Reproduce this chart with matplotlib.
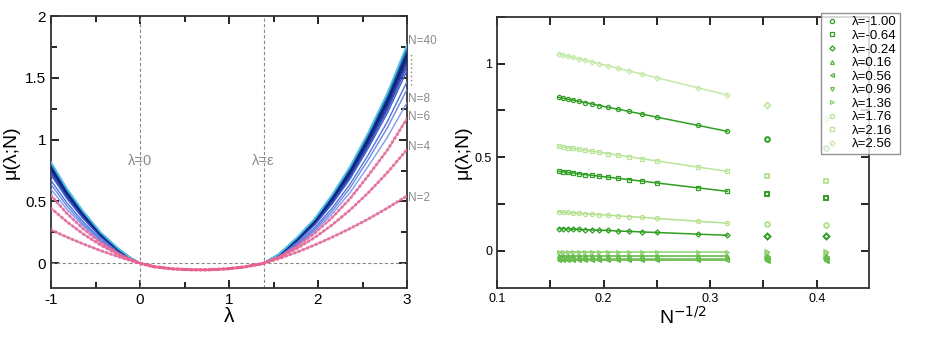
import matplotlib
matplotlib.use('Agg')
import matplotlib.pyplot as plt
import matplotlib.transforms as mtransforms
from matplotlib.colors import LinearSegmentedColormap
from matplotlib.ticker import MultipleLocator
import numpy as np

plt.rcParams['font.family'] = ['Liberation Sans', 'DejaVu Sans']
plt.rcParams['axes.unicode_minus'] = False

# lambda grid: left wing, common middle part, right wing
lam_left = [-1.0, -0.82, -0.64, -0.44, -0.24, -0.1]
lam_mid = [0.0, 0.16, 0.36, 0.56, 0.76, 0.96, 1.16, 1.36, 1.39]
lam_right = [1.56, 1.76, 1.96, 2.16, 2.36, 2.56, 2.78, 3.0]

# mu in [0, eps] is the same for all N
mu_mid = [0.0, -0.028, -0.045, -0.052, -0.053, -0.046, -0.031, -0.005, 0.0]

sizes = [2, 4, 6, 8, 10, 12, 16, 18, 20, 22, 24, 26, 28, 30, 32, 34, 36, 38, 40]

mu_left = {
    2: [0.270, 0.211, 0.157, 0.102, 0.052, 0.021],
    4: [0.445, 0.335, 0.238, 0.146, 0.069, 0.026],
    6: [0.549, 0.402, 0.280, 0.167, 0.077, 0.028],
    8: [0.599, 0.436, 0.303, 0.177, 0.080, 0.029],
    10: [0.638, 0.463, 0.317, 0.184, 0.082, 0.029],
    12: [0.670, 0.488, 0.336, 0.196, 0.088, 0.031],
    16: [0.714, 0.522, 0.362, 0.212, 0.097, 0.034],
    18: [0.731, 0.535, 0.372, 0.218, 0.100, 0.036],
    20: [0.745, 0.546, 0.380, 0.223, 0.103, 0.037],
    22: [0.757, 0.555, 0.387, 0.227, 0.105, 0.037],
    24: [0.767, 0.563, 0.393, 0.231, 0.108, 0.038],
    26: [0.776, 0.570, 0.398, 0.234, 0.109, 0.039],
    28: [0.785, 0.577, 0.403, 0.237, 0.111, 0.039],
    30: [0.792, 0.582, 0.407, 0.240, 0.112, 0.040],
    32: [0.799, 0.587, 0.411, 0.242, 0.114, 0.040],
    34: [0.805, 0.592, 0.415, 0.244, 0.115, 0.041],
    36: [0.810, 0.596, 0.418, 0.246, 0.116, 0.041],
    38: [0.815, 0.600, 0.421, 0.248, 0.117, 0.042],
    40: [0.820, 0.604, 0.424, 0.250, 0.118, 0.042],
}

mu_right = {
    2: [0.037, 0.089, 0.147, 0.211, 0.281, 0.356, 0.447, 0.545],
    4: [0.047, 0.119, 0.207, 0.311, 0.431, 0.567, 0.734, 0.920],
    6: [0.051, 0.135, 0.242, 0.371, 0.523, 0.705, 0.916, 1.170],
    8: [0.052, 0.142, 0.258, 0.401, 0.572, 0.780, 1.020, 1.300],
    10: [0.053, 0.147, 0.270, 0.424, 0.609, 0.833, 1.097, 1.405],
    12: [0.057, 0.157, 0.286, 0.447, 0.640, 0.871, 1.146, 1.469],
    16: [0.062, 0.172, 0.308, 0.480, 0.683, 0.925, 1.216, 1.558],
    18: [0.064, 0.178, 0.316, 0.492, 0.699, 0.945, 1.242, 1.591],
    20: [0.066, 0.182, 0.323, 0.503, 0.712, 0.962, 1.263, 1.619],
    22: [0.067, 0.186, 0.329, 0.511, 0.724, 0.976, 1.282, 1.643],
    24: [0.069, 0.190, 0.334, 0.519, 0.734, 0.989, 1.298, 1.664],
    26: [0.070, 0.193, 0.338, 0.526, 0.743, 1.000, 1.313, 1.682],
    28: [0.071, 0.195, 0.342, 0.532, 0.751, 1.010, 1.326, 1.699],
    30: [0.072, 0.198, 0.346, 0.537, 0.758, 1.019, 1.337, 1.713],
    32: [0.072, 0.200, 0.349, 0.542, 0.764, 1.027, 1.348, 1.727],
    34: [0.073, 0.202, 0.352, 0.547, 0.770, 1.034, 1.357, 1.739],
    36: [0.074, 0.204, 0.355, 0.551, 0.776, 1.041, 1.366, 1.750],
    38: [0.074, 0.205, 0.358, 0.554, 0.780, 1.047, 1.374, 1.760],
    40: [0.075, 0.207, 0.360, 0.558, 0.785, 1.053, 1.381, 1.770],
}

eps = 1.39
pink_sizes = [2, 4, 6]
label_sizes = ['N=2', 'N=4', 'N=6', 'N=8', 'N=40']
label_y = [0.53, 0.94, 1.18, 1.33, 1.80]

# right panel: selected lambdas, N used for the fitted lines
lam_sel = [-1.00, -0.64, -0.24, 0.16, 0.56, 0.96, 1.36, 1.76, 2.16, 2.56]
line_sizes = [10, 12, 16, 18, 20, 22, 24, 26, 28, 30, 32, 34, 36, 38, 40]
point_sizes = [6, 8]

lam_all = np.array(lam_left + lam_mid + lam_right)


def mu_curve(n):
    return np.array(mu_left[n] + mu_mid + mu_right[n])


fig = plt.figure(figsize=(9.26, 3.4), dpi=100)
ax1 = fig.add_axes([51 / 926, 52 / 340, 356 / 926, 272 / 340])
ax2 = fig.add_axes([497 / 926, 52 / 340, 372 / 926, 271 / 340])

# ---- left panel ----
grey = '#8a8a8a'
ax1.axhline(0, color=grey, ls='--', lw=0.8, dashes=(3, 2))
ax1.axvline(0, color=grey, ls='--', lw=0.8, dashes=(3, 2))
ax1.axvline(eps, color=grey, ls='--', lw=0.8, dashes=(3, 2))

blue_sizes = [n for n in sizes if n not in pink_sizes]
cmap = LinearSegmentedColormap.from_list(
    'bl', ['#7f9cf0', '#3d5fd0', '#1a2f95', '#0a1a6e', '#1d5fb0', '#52c6e6'])
for i, n in enumerate(blue_sizes):
    c = cmap(i / (len(blue_sizes) - 1))
    ax1.plot(lam_all, mu_curve(n), color=c, lw=1.0, zorder=3 + i)

for n in pink_sizes:
    ax1.plot(lam_all, mu_curve(n), color='#9aaaf0', lw=0.8, zorder=20)
    ax1.plot(lam_all, mu_curve(n), color='#f0608f', lw=2.2,
             ls=(0, (0.4, 1.1)), dash_capstyle='round', alpha=0.8, zorder=21)

ax1.text(0, 0.83, 'λ=0', color=grey, fontsize=10.5, ha='center', va='center')
ax1.text(eps, 0.83, 'λ=ε', color=grey, fontsize=10.5, ha='center', va='center')

trans = mtransforms.blended_transform_factory(ax1.transAxes, ax1.transData)
for lab, y in zip(label_sizes, label_y):
    ax1.text(1.002, y, lab, transform=trans, color=grey, fontsize=8.5,
             ha='left', va='center', clip_on=False)
ax1.plot([1.012, 1.012], [1.44, 1.70], transform=trans, color=grey,
         ls=(0, (1, 2)), lw=1.0, clip_on=False)

ax1.set_xlim(-1, 3)
ax1.set_ylim(-0.2, 2)
ax1.xaxis.set_major_locator(MultipleLocator(1))
ax1.xaxis.set_minor_locator(MultipleLocator(0.5))
ax1.yaxis.set_major_locator(MultipleLocator(0.5))
ax1.yaxis.set_minor_locator(MultipleLocator(0.25))
ax1.set_yticks([0, 0.5, 1, 1.5, 2])
ax1.set_yticklabels(['0', '0.5', '1', '1.5', '2'])
ax1.tick_params(which='both', direction='in', top=True, right=True,
                labelsize=11, width=1.2)
ax1.tick_params(which='major', length=6)
ax1.tick_params(which='minor', length=4)
ax1.set_xlabel('λ', fontsize=15, labelpad=0)
ax1.set_ylabel('μ(λ;N)', fontsize=14, labelpad=4)

# ---- right panel ----
markers = ['o', 's', 'D', '^', '<', 'v', '>', 'o', 's', 'D']
colors = ['#2f9e22', '#2f9e22', '#2f9e22',
          '#56b53a', '#56b53a', '#6cc050', '#8fd070',
          '#b2e28e', '#b8e59a', '#c4eaa8']
msizes = [3.0, 2.7, 2.6, 2.8, 2.8, 2.8, 2.8, 3.0, 2.7, 2.6]

for k, lam in enumerate(lam_sel):
    j = int(np.argmin(np.abs(lam_all - lam)))
    xl = [n ** -0.5 for n in line_sizes]
    yl = [mu_curve(n)[j] for n in line_sizes]
    xp = [n ** -0.5 for n in point_sizes]
    yp = [mu_curve(n)[j] for n in point_sizes]
    ax2.plot(xl, yl, color=colors[k], lw=1.1, marker=markers[k], ms=msizes[k],
             mfc='none', mew=0.9, label='λ=%.2f' % lam)
    ax2.plot(xp, yp, ls='none', color=colors[k], marker=markers[k],
             ms=msizes[k] + 0.4, mfc='none', mew=1.4)

ax2.set_xlim(0.1, 0.449)
ax2.set_ylim(-0.2, 1.25)
ax2.xaxis.set_major_locator(MultipleLocator(0.1))
ax2.xaxis.set_minor_locator(MultipleLocator(0.05))
ax2.yaxis.set_major_locator(MultipleLocator(0.5))
ax2.yaxis.set_minor_locator(MultipleLocator(0.25))
ax2.set_xticks([0.1, 0.2, 0.3, 0.4])
ax2.set_xticklabels(['0.1', '0.2', '0.3', '0.4'])
ax2.set_yticks([0, 0.5, 1])
ax2.set_yticklabels(['0', '0.5', '1'])
ax2.tick_params(which='both', direction='in', top=True, right=True,
                labelsize=9, width=1.2)
ax2.tick_params(which='major', length=6)
ax2.tick_params(which='minor', length=6)
ax2.set_xlabel('N$^{-1/2}$', fontsize=14, labelpad=1)
ax2.set_ylabel('μ(λ;N)', fontsize=14, labelpad=2)

leg = ax2.legend(loc='upper right', bbox_to_anchor=(1.083, 1.015),
                 borderaxespad=0, fontsize=9.5, frameon=True, fancybox=False,
                 handlelength=1.2, handletextpad=0.9, labelspacing=0.1,
                 borderpad=0.25)
leg.get_frame().set_edgecolor('#777777')
leg.get_frame().set_linewidth(1.0)
for h in leg.legend_handles:
    h.set_linestyle('none')

for ax in (ax1, ax2):
    for s in ax.spines.values():
        s.set_linewidth(1.3)
        s.set_color('#333333')

fig.savefig('out.png', dpi=100)
